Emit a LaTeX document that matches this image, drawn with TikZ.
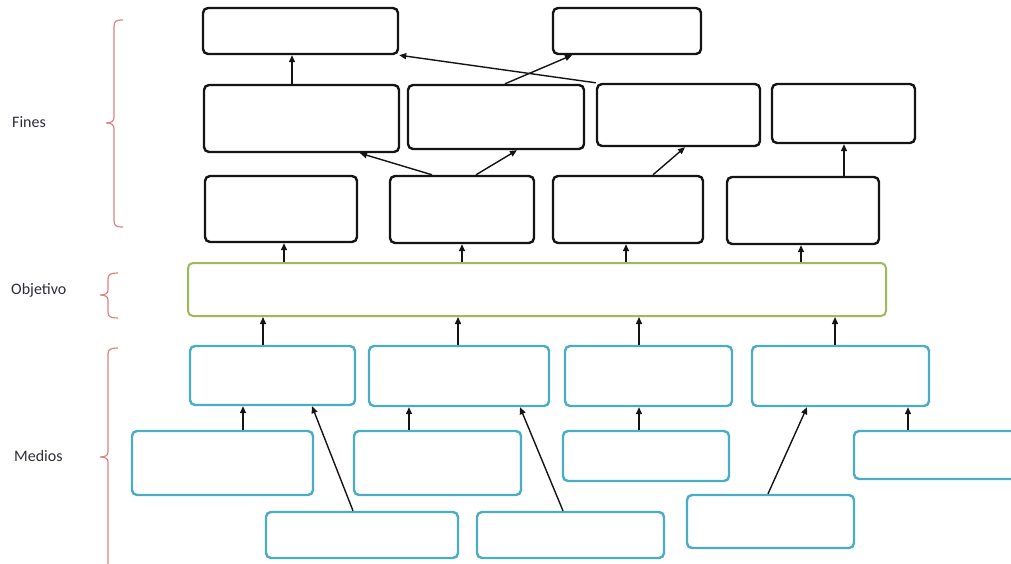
\documentclass[tikz,border=0pt]{standalone}
\usepackage{fontspec}
\setmainfont{Carlito}
\usetikzlibrary{arrows.meta,calc}
\definecolor{fineblack}{RGB}{20,20,20}
\definecolor{objgreen}{RGB}{155,187,89}
\definecolor{medblue}{RGB}{75,172,198}
\definecolor{bracered}{RGB}{222,130,130}
\definecolor{labelgray}{RGB}{45,45,55}
\tikzset{
  finebox/.style={draw=fineblack, line width=2.4pt, rounded corners=5pt, inner sep=0pt, fill=white},
  objbox/.style={draw=objgreen, line width=2pt, rounded corners=5pt, inner sep=0pt},
  medbox/.style={draw=medblue, line width=2.4pt, rounded corners=5pt, inner sep=0pt, fill=white},
  arr/.style={draw=fineblack, line width=1.4pt, -{Triangle[length=7pt,width=6pt]}},
  bracel/.style={draw=bracered, line width=1.2pt},
  lbl/.style={anchor=west, inner sep=0pt, text=labelgray, font=\fontsize{16}{18}\selectfont}
}
\begin{document}
\begin{tikzpicture}[x=1pt,y=-1pt]
\useasboundingbox (0,0) rectangle (1011,564);
\clip (0,0) rectangle (1011,564);
% labels
\node[lbl] (lf) at (12,122) {Fines};
\node[lbl] (lo) at (11,290) {Objetivo};
\node[lbl] (lm) at (14,456) {Medios};
% braces
\draw[bracel] (123,20) .. controls (116,20) and (114,21) .. (114,27) -- (114,117)
  .. controls (114,121) and (112,123) .. (106,123)
  .. controls (112,123) and (114,125) .. (114,129) -- (114,220)
  .. controls (114,226) and (116,227) .. (123,227);
\draw[bracel] (118,273) .. controls (111,273) and (108,274) .. (108,279) -- (108,290)
  .. controls (108,293) and (106,295) .. (100,295)
  .. controls (106,295) and (108,297) .. (108,300) -- (108,312)
  .. controls (108,317) and (111,318) .. (118,318);
\draw[bracel] (118,348) .. controls (111,348) and (108,349) .. (108,354) -- (108,452)
  .. controls (108,455) and (106,457) .. (100,457)
  .. controls (106,457) and (108,459) .. (108,462) -- (108,580);
% Fines boxes
\node[finebox, minimum width=195, minimum height=46] (A1) at (300.5,31) {};
\node[finebox, minimum width=148, minimum height=46] (A2) at (627,31) {};
\node[finebox, minimum width=195, minimum height=67] (B1) at (301.5,118.5) {};
\node[finebox, minimum width=176, minimum height=64] (B2) at (496,117) {};
\node[finebox, minimum width=163, minimum height=62] (B3) at (678.5,115) {};
\node[finebox, minimum width=143, minimum height=59] (B4) at (843.5,113.5) {};
\node[finebox, minimum width=152, minimum height=66] (C1) at (281,209) {};
\node[finebox, minimum width=144, minimum height=67] (C2) at (462,209.5) {};
\node[finebox, minimum width=150, minimum height=67] (C3) at (628,209.5) {};
\node[finebox, minimum width=152, minimum height=67] (C4) at (803,210.5) {};
% Objetivo
\node[objbox, minimum width=698, minimum height=53] (O) at (537,289.5) {};
% Medios boxes
\node[medbox, minimum width=165, minimum height=59] (D1) at (272.5,375.5) {};
\node[medbox, minimum width=180, minimum height=60] (D2) at (459,376) {};
\node[medbox, minimum width=167, minimum height=60] (D3) at (648.5,376) {};
\node[medbox, minimum width=177, minimum height=60] (D4) at (840.5,376) {};
\node[medbox, minimum width=181, minimum height=64] (E1) at (222.5,463) {};
\node[medbox, minimum width=167, minimum height=64] (E2) at (437.5,463) {};
\node[medbox, minimum width=166, minimum height=50] (E3) at (646,456) {};
\node[medbox, minimum width=186, minimum height=48] (E4) at (947,455) {};
\node[medbox, minimum width=192, minimum height=46] (F1) at (362,535) {};
\node[medbox, minimum width=187, minimum height=46] (F2) at (570.5,535) {};
\node[medbox, minimum width=167, minimum height=53] (F3) at (770.5,521.5) {};
% Fines connectors
\draw[arr] ([xshift=-9.5pt]B1.north) -- ([xshift=-8.5pt]A1.south);
\draw[arr] (B3.north west) -- (A1.south east);
\draw[arr] ([xshift=9pt]B2.north) -- ([xshift=-55pt]A2.south);
\draw[arr] ([xshift=-30pt]C2.north) -- ([xshift=58.5pt]B1.south);
\draw[arr] ([xshift=14pt]C2.north) -- ([xshift=21pt]B2.south);
\draw[arr] ([xshift=25pt]C3.north) -- ([xshift=6.5pt]B3.south);
\draw[arr] ([xshift=41pt]C4.north) -- ([xshift=0.5pt]B4.south);
% Objetivo to Fines
\draw[arr] ([xshift=3pt]O.north -| C1.south) -- ([xshift=3pt]C1.south);
\draw[arr] (O.north -| C2.south) -- (C2.south);
\draw[arr] ([xshift=-2pt]O.north -| C3.south) -- ([xshift=-2pt]C3.south);
\draw[arr] ([xshift=-2pt]O.north -| C4.south) -- ([xshift=-2pt]C4.south);
% Medios to Objetivo
\draw[arr] ([xshift=-9.5pt]D1.north) -- ([xshift=-9.5pt]O.south -| D1.north);
\draw[arr] ([xshift=-1pt]D2.north) -- ([xshift=-1pt]O.south -| D2.north);
\draw[arr] ([xshift=-9.5pt]D3.north) -- ([xshift=-9.5pt]O.south -| D3.north);
\draw[arr] ([xshift=-5.5pt]D4.north) -- ([xshift=-5.5pt]O.south -| D4.north);
% lower medios
\draw[arr] ([xshift=20.5pt]E1.north) -- ([xshift=20.5pt]D1.south -| E1.north);
\draw[arr] ([xshift=-28.5pt]E2.north) -- ([xshift=-28.5pt]D2.south -| E2.north);
\draw[arr] ([xshift=-7pt]E3.north) -- ([xshift=-7pt]D3.south -| E3.north);
\draw[arr] ([xshift=-39pt]E4.north) -- ([xshift=-39pt]D4.south -| E4.north);
\draw[arr] ([xshift=-9pt]F1.north) -- ([xshift=39.5pt]D1.south);
\draw[arr] ([xshift=-7.5pt]F2.north) -- ([xshift=61pt]D2.south);
\draw[arr] ([xshift=-2.5pt]F3.north) -- ([xshift=-33.5pt]D4.south);
\end{tikzpicture}
\end{document}
